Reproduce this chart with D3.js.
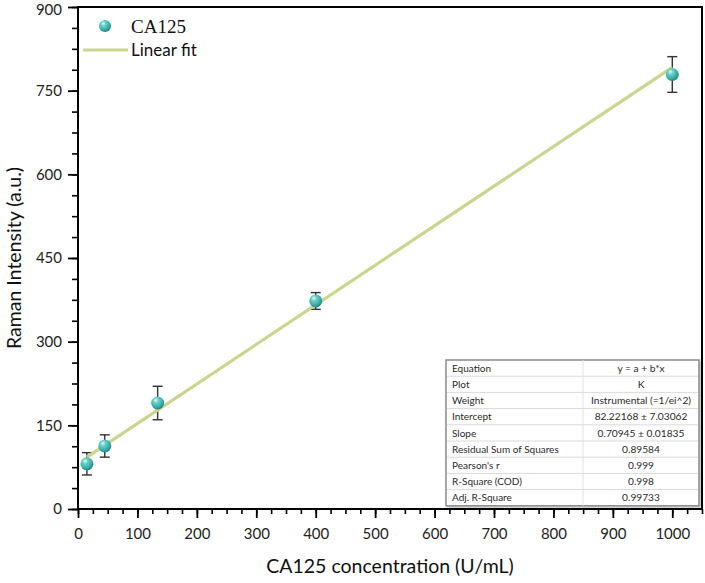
<!DOCTYPE html>
<html>
<head>
<meta charset="utf-8">
<script src="https://cdn.jsdelivr.net/npm/d3@7"></script>
<style>
  body { margin: 0; background: #fff; }
  svg { display: block; }
  .tick text { font-family: Lato, "Open Sans", sans-serif; font-size: 15px; fill: #222; }
</style>
</head>
<body>
<svg id="chart"></svg>
<script>
// CA125 calibration data
const concentrations = [15, 45, 134, 400, 1000];
const intensities = [81, 113, 190, 373, 779];
const errors = [20, 20, 30, 15, 32];

// linear fit reported in the table
const intercept = 82.22168;
const slope = 0.70945;
const fitRange = [15, 1000];

const yTicks = [0, 150, 300, 450, 600, 750, 900];
const xTicks = [0, 100, 200, 300, 400, 500, 600, 700, 800, 900, 1000];

const tableRows = [
  ["Equation", "y = a + b*x"],
  ["Plot", "K"],
  ["Weight", "Instrumental (=1/ei^2)"],
  ["Intercept", "82.22168 \u00b1 7.03062"],
  ["Slope", "0.70945 \u00b1 0.01835"],
  ["Residual Sum of Squares", "0.89584"],
  ["Pearson's r", "0.999"],
  ["R-Square (COD)", "0.998"],
  ["Adj. R-Square", "0.99733"]
];

// chart dimensions
const width = 705;
const height = 583;
const marginLeft = 78;
const marginRight = 3;
const marginTop = 7;
const marginBottom = 74;

const x = d3.scaleLinear()
    .domain([0, 1050])
    .range([marginLeft, width - marginRight]);

const y = d3.scaleLinear()
    .domain([0, 900])
    .range([height - marginBottom, marginTop]);

const svg = d3.select("#chart")
    .attr("width", width)
    .attr("height", height);

const defs = svg.append("defs");
const grad = defs.append("radialGradient")
    .attr("id", "ball")
    .attr("cx", "40%").attr("cy", "35%").attr("r", "65%")
    .attr("fx", "35%").attr("fy", "28%");
grad.append("stop").attr("offset", "0%").attr("stop-color", "#e8fbf8");
grad.append("stop").attr("offset", "30%").attr("stop-color", "#6fd0c8");
grad.append("stop").attr("offset", "75%").attr("stop-color", "#35aea7");
grad.append("stop").attr("offset", "100%").attr("stop-color", "#23837e");

const shadow = defs.append("filter").attr("id", "shadow")
    .attr("x", "-5%").attr("y", "-5%").attr("width", "115%").attr("height", "115%");
shadow.append("feDropShadow")
    .attr("dx", 1.5).attr("dy", 1.5).attr("stdDeviation", 1.2)
    .attr("flood-color", "#000").attr("flood-opacity", 0.25);

// minor ticks
svg.append("g")
    .attr("transform", `translate(0,${y(0)})`)
    .call(d3.axisBottom(x).tickValues(d3.range(0, 1051, 25)).tickSize(5).tickFormat(""))
    .call(g => g.select(".domain").remove())
    .call(g => g.selectAll("line").attr("stroke", "#000").attr("stroke-width", 1.6));

svg.append("g")
    .attr("transform", `translate(${marginLeft},0)`)
    .call(d3.axisLeft(y).tickValues(d3.range(0, 901, 37.5)).tickSize(6).tickFormat(""))
    .call(g => g.select(".domain").remove())
    .call(g => g.selectAll("line").attr("stroke", "#000").attr("stroke-width", 1.6));

// x-axis
svg.append("g")
    .attr("transform", `translate(0,${y(0)})`)
    .call(d3.axisBottom(x).tickValues(xTicks).tickSize(9).tickPadding(10).tickFormat(d3.format("d")))
    .call(g => g.select(".domain").remove())
    .call(g => g.selectAll("line").attr("stroke", "#000").attr("stroke-width", 1.8));

// y-axis
svg.append("g")
    .attr("transform", `translate(${marginLeft},0)`)
    .call(d3.axisLeft(y).tickValues(yTicks).tickSize(10).tickPadding(6).tickFormat(d3.format("d")))
    .call(g => g.select(".domain").remove())
    .call(g => g.selectAll("line").attr("stroke", "#000").attr("stroke-width", 1.8))
    .call(g => g.selectAll(".tick text").filter(d => d === 900).attr("dy", "0.5em"));

// frame
svg.append("rect")
    .attr("x", x(0))
    .attr("y", y(900))
    .attr("width", x(1050) - x(0))
    .attr("height", y(0) - y(900))
    .attr("fill", "none")
    .attr("stroke", "#000")
    .attr("stroke-width", 2);

// axis titles
svg.append("text")
    .attr("x", (x(0) + x(1050)) / 2)
    .attr("y", 573)
    .attr("text-anchor", "middle")
    .attr("font-family", "Lato, 'Open Sans', sans-serif")
    .attr("font-size", 19.5)
    .attr("fill", "#111")
    .text("CA125 concentration (U/mL)");

svg.append("text")
    .attr("transform", `translate(21,${(y(0) + y(900)) / 2}) rotate(-90)`)
    .attr("text-anchor", "middle")
    .attr("font-family", "Lato, 'Open Sans', sans-serif")
    .attr("font-size", 19.5)
    .attr("fill", "#111")
    .text("Raman Intensity (a.u.)");

// results table
const tbl = svg.append("g").attr("transform", "translate(446,360)");
const rowH = 16.2;
const tblW = 253;
const colX = 137;
tbl.append("rect")
    .attr("width", tblW)
    .attr("height", rowH * tableRows.length)
    .attr("fill", "#fff")
    .attr("stroke", "#8a8a8a")
    .attr("stroke-width", 1.5)
    .attr("filter", "url(#shadow)");
tbl.selectAll("line.row")
    .data(d3.range(1, tableRows.length))
    .join("line")
    .attr("class", "row")
    .attr("x1", 1).attr("x2", tblW - 1)
    .attr("y1", d => d * rowH).attr("y2", d => d * rowH)
    .attr("stroke", "#dadada")
    .attr("stroke-width", 1);
tbl.append("line")
    .attr("x1", colX).attr("x2", colX)
    .attr("y1", 0).attr("y2", rowH * tableRows.length)
    .attr("stroke", "#e2e2e2");
tbl.selectAll("text.lab")
    .data(tableRows)
    .join("text")
    .attr("class", "lab")
    .attr("x", 6)
    .attr("y", (d, i) => i * rowH + rowH / 2 + 3.6)
    .attr("font-family", "Lato, 'Open Sans', sans-serif")
    .attr("font-size", 10)
    .attr("fill", "#2a2a2a")
    .text(d => d[0]);
tbl.selectAll("text.val")
    .data(tableRows)
    .join("text")
    .attr("class", "val")
    .attr("x", colX + (tblW - colX) / 2)
    .attr("y", (d, i) => i * rowH + rowH / 2 + 3.6)
    .attr("text-anchor", "middle")
    .attr("font-family", "Lato, 'Open Sans', sans-serif")
    .attr("font-size", 10.2)
    .attr("fill", "#2a2a2a")
    .text(d => d[1]);

// error bars
const points = concentrations.map((c, i) => ({ c, v: intensities[i], e: errors[i] }));
const eb = svg.append("g").attr("stroke", "#333").attr("stroke-width", 1.4);
eb.selectAll("line.v")
    .data(points)
    .join("line")
    .attr("x1", d => x(d.c)).attr("x2", d => x(d.c))
    .attr("y1", d => y(d.v - d.e)).attr("y2", d => y(d.v + d.e));
eb.selectAll("line.top")
    .data(points)
    .join("line")
    .attr("x1", d => x(d.c) - 5).attr("x2", d => x(d.c) + 5)
    .attr("y1", d => y(d.v + d.e)).attr("y2", d => y(d.v + d.e));
eb.selectAll("line.bot")
    .data(points)
    .join("line")
    .attr("x1", d => x(d.c) - 5).attr("x2", d => x(d.c) + 5)
    .attr("y1", d => y(d.v - d.e)).attr("y2", d => y(d.v - d.e));

// linear fit
const line = d3.line().x(d => x(d)).y(d => y(intercept + slope * d));
svg.append("path")
    .datum(fitRange)
    .attr("d", line)
    .attr("fill", "none")
    .attr("stroke", "#cbd58f")
    .attr("stroke-width", 3.2);

// data points
svg.append("g")
    .selectAll("circle")
    .data(points)
    .join("circle")
    .attr("cx", d => x(d.c))
    .attr("cy", d => y(d.v))
    .attr("r", 6.5)
    .attr("fill", "url(#ball)");

// legend
const legend = svg.append("g");
legend.append("circle")
    .attr("cx", 105).attr("cy", 26).attr("r", 6)
    .attr("fill", "url(#ball)");
legend.append("text")
    .attr("x", 131).attr("y", 33)
    .attr("font-family", "'Liberation Serif', 'Times New Roman', serif")
    .attr("font-size", 19)
    .attr("fill", "#111")
    .text("CA125");
legend.append("line")
    .attr("x1", 83).attr("x2", 128)
    .attr("y1", 50).attr("y2", 50)
    .attr("stroke", "#cbd58f")
    .attr("stroke-width", 3.2);
legend.append("text")
    .attr("x", 131).attr("y", 56)
    .attr("font-family", "Lato, 'Open Sans', sans-serif")
    .attr("font-size", 17)
    .attr("fill", "#111")
    .text("Linear fit");
</script>
</body>
</html>
